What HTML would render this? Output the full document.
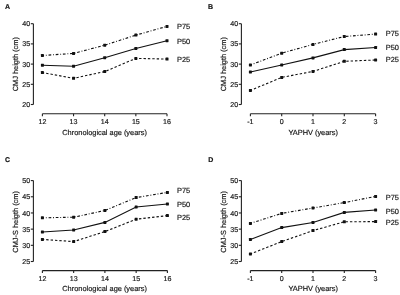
<!DOCTYPE html>
<html><head><meta charset="utf-8"><style>
html,body{margin:0;padding:0;background:#fff;width:400px;height:295px;overflow:hidden}
svg{display:block;will-change:transform;text-rendering:geometricPrecision;font-family:"Liberation Sans",sans-serif;fill:#111}
text{stroke:#222;stroke-width:0.18}
.ax{stroke:#222;stroke-width:1.1;fill:none}
.ln{stroke:#111;stroke-width:1.1;fill:none}
</style></head><body>
<svg width="400" height="295" viewBox="0 0 400 295">
<text x="5.10" y="9.41" font-size="7" text-anchor="start" font-weight="bold" >A</text>
<path d="M33.40 23.70V104.50" class="ax"/>
<path d="M30.80 23.70H33.40" class="ax"/>
<text x="30.10" y="26.24" font-size="7.1" text-anchor="end" font-weight="normal" >40</text>
<path d="M30.80 43.90H33.40" class="ax"/>
<text x="30.10" y="46.44" font-size="7.1" text-anchor="end" font-weight="normal" >35</text>
<path d="M30.80 64.10H33.40" class="ax"/>
<text x="30.10" y="66.64" font-size="7.1" text-anchor="end" font-weight="normal" >30</text>
<path d="M30.80 84.30H33.40" class="ax"/>
<text x="30.10" y="86.84" font-size="7.1" text-anchor="end" font-weight="normal" >25</text>
<path d="M30.80 104.50H33.40" class="ax"/>
<text x="30.10" y="107.04" font-size="7.1" text-anchor="end" font-weight="normal" >20</text>
<path d="M42.40 113.80H167.00" class="ax"/>
<path d="M42.40 113.80V116.20" class="ax"/>
<text x="42.40" y="123.84" font-size="7.1" text-anchor="middle" font-weight="normal" >12</text>
<path d="M73.55 113.80V116.20" class="ax"/>
<text x="73.55" y="123.84" font-size="7.1" text-anchor="middle" font-weight="normal" >13</text>
<path d="M104.70 113.80V116.20" class="ax"/>
<text x="104.70" y="123.84" font-size="7.1" text-anchor="middle" font-weight="normal" >14</text>
<path d="M135.85 113.80V116.20" class="ax"/>
<text x="135.85" y="123.84" font-size="7.1" text-anchor="middle" font-weight="normal" >15</text>
<path d="M167.00 113.80V116.20" class="ax"/>
<text x="167.00" y="123.84" font-size="7.1" text-anchor="middle" font-weight="normal" >16</text>
<text x="104.60" y="135.15" font-size="7.4" text-anchor="middle" font-weight="normal" >Chronological age (years)</text>
<text x="0" y="0" font-size="7.4" text-anchor="middle" transform="translate(17.65 64.20) rotate(-90)">CMJ heigth (cm)</text>
<polyline points="42.40,55.50 73.55,53.40 104.70,45.20 135.85,35.10 167.00,26.40" class="ln" stroke-dasharray="2.7 1.8 0.9 1.8" stroke-dashoffset="1.05"/>
<rect x="40.90" y="54.00" width="3.0" height="3.0" rx="0.4" fill="#111"/>
<rect x="72.05" y="51.90" width="3.0" height="3.0" rx="0.4" fill="#111"/>
<rect x="103.20" y="43.70" width="3.0" height="3.0" rx="0.4" fill="#111"/>
<rect x="134.35" y="33.60" width="3.0" height="3.0" rx="0.4" fill="#111"/>
<rect x="165.50" y="24.90" width="3.0" height="3.0" rx="0.4" fill="#111"/>
<polyline points="42.40,65.20 73.55,66.20 104.70,57.70 135.85,48.50 167.00,40.70" class="ln" />
<rect x="40.90" y="63.70" width="3.0" height="3.0" rx="0.4" fill="#111"/>
<rect x="72.05" y="64.70" width="3.0" height="3.0" rx="0.4" fill="#111"/>
<rect x="103.20" y="56.20" width="3.0" height="3.0" rx="0.4" fill="#111"/>
<rect x="134.35" y="47.00" width="3.0" height="3.0" rx="0.4" fill="#111"/>
<rect x="165.50" y="39.20" width="3.0" height="3.0" rx="0.4" fill="#111"/>
<polyline points="42.40,72.60 73.55,78.30 104.70,71.60 135.85,58.40 167.00,59.10" class="ln" stroke-dasharray="2.4 2.0" stroke-dashoffset="0.6"/>
<rect x="40.90" y="71.10" width="3.0" height="3.0" rx="0.4" fill="#111"/>
<rect x="72.05" y="76.80" width="3.0" height="3.0" rx="0.4" fill="#111"/>
<rect x="103.20" y="70.10" width="3.0" height="3.0" rx="0.4" fill="#111"/>
<rect x="134.35" y="56.90" width="3.0" height="3.0" rx="0.4" fill="#111"/>
<rect x="165.50" y="57.60" width="3.0" height="3.0" rx="0.4" fill="#111"/>
<text x="177.00" y="28.95" font-size="7.4" text-anchor="start" font-weight="normal" >P75</text>
<text x="177.00" y="43.65" font-size="7.4" text-anchor="start" font-weight="normal" >P50</text>
<text x="177.00" y="61.65" font-size="7.4" text-anchor="start" font-weight="normal" >P25</text>
<text x="208.10" y="9.41" font-size="7" text-anchor="start" font-weight="bold" >B</text>
<path d="M241.40 23.70V104.50" class="ax"/>
<path d="M238.80 23.70H241.40" class="ax"/>
<text x="238.10" y="26.24" font-size="7.1" text-anchor="end" font-weight="normal" >40</text>
<path d="M238.80 43.90H241.40" class="ax"/>
<text x="238.10" y="46.44" font-size="7.1" text-anchor="end" font-weight="normal" >35</text>
<path d="M238.80 64.10H241.40" class="ax"/>
<text x="238.10" y="66.64" font-size="7.1" text-anchor="end" font-weight="normal" >30</text>
<path d="M238.80 84.30H241.40" class="ax"/>
<text x="238.10" y="86.84" font-size="7.1" text-anchor="end" font-weight="normal" >25</text>
<path d="M238.80 104.50H241.40" class="ax"/>
<text x="238.10" y="107.04" font-size="7.1" text-anchor="end" font-weight="normal" >20</text>
<path d="M250.40 113.80H375.60" class="ax"/>
<path d="M250.40 113.80V116.20" class="ax"/>
<text x="250.40" y="123.84" font-size="7.1" text-anchor="middle" font-weight="normal" >-1</text>
<path d="M281.70 113.80V116.20" class="ax"/>
<text x="281.70" y="123.84" font-size="7.1" text-anchor="middle" font-weight="normal" >0</text>
<path d="M313.00 113.80V116.20" class="ax"/>
<text x="313.00" y="123.84" font-size="7.1" text-anchor="middle" font-weight="normal" >1</text>
<path d="M344.30 113.80V116.20" class="ax"/>
<text x="344.30" y="123.84" font-size="7.1" text-anchor="middle" font-weight="normal" >2</text>
<path d="M375.60 113.80V116.20" class="ax"/>
<text x="375.60" y="123.84" font-size="7.1" text-anchor="middle" font-weight="normal" >3</text>
<text x="313.20" y="134.85" font-size="7.4" text-anchor="middle" font-weight="normal" >YAPHV (years)</text>
<text x="0" y="0" font-size="7.4" text-anchor="middle" transform="translate(225.65 64.20) rotate(-90)">CMJ heigth (cm)</text>
<polyline points="250.40,65.00 281.70,53.20 313.00,44.40 344.30,36.50 375.60,34.10" class="ln" stroke-dasharray="2.7 1.8 0.9 1.8" stroke-dashoffset="1.05"/>
<rect x="248.90" y="63.50" width="3.0" height="3.0" rx="0.4" fill="#111"/>
<rect x="280.20" y="51.70" width="3.0" height="3.0" rx="0.4" fill="#111"/>
<rect x="311.50" y="42.90" width="3.0" height="3.0" rx="0.4" fill="#111"/>
<rect x="342.80" y="35.00" width="3.0" height="3.0" rx="0.4" fill="#111"/>
<rect x="374.10" y="32.60" width="3.0" height="3.0" rx="0.4" fill="#111"/>
<polyline points="250.40,72.00 281.70,65.00 313.00,57.90 344.30,49.60 375.60,47.50" class="ln" />
<rect x="248.90" y="70.50" width="3.0" height="3.0" rx="0.4" fill="#111"/>
<rect x="280.20" y="63.50" width="3.0" height="3.0" rx="0.4" fill="#111"/>
<rect x="311.50" y="56.40" width="3.0" height="3.0" rx="0.4" fill="#111"/>
<rect x="342.80" y="48.10" width="3.0" height="3.0" rx="0.4" fill="#111"/>
<rect x="374.10" y="46.00" width="3.0" height="3.0" rx="0.4" fill="#111"/>
<polyline points="250.40,90.40 281.70,77.40 313.00,71.40 344.30,61.30 375.60,60.00" class="ln" stroke-dasharray="2.4 2.0" stroke-dashoffset="0.6"/>
<rect x="248.90" y="88.90" width="3.0" height="3.0" rx="0.4" fill="#111"/>
<rect x="280.20" y="75.90" width="3.0" height="3.0" rx="0.4" fill="#111"/>
<rect x="311.50" y="69.90" width="3.0" height="3.0" rx="0.4" fill="#111"/>
<rect x="342.80" y="59.80" width="3.0" height="3.0" rx="0.4" fill="#111"/>
<rect x="374.10" y="58.50" width="3.0" height="3.0" rx="0.4" fill="#111"/>
<text x="385.80" y="36.05" font-size="7.4" text-anchor="start" font-weight="normal" >P75</text>
<text x="385.80" y="50.05" font-size="7.4" text-anchor="start" font-weight="normal" >P50</text>
<text x="385.80" y="62.25" font-size="7.4" text-anchor="start" font-weight="normal" >P25</text>
<text x="5.10" y="162.01" font-size="7" text-anchor="start" font-weight="bold" >C</text>
<path d="M33.40 180.60V261.50" class="ax"/>
<path d="M30.80 180.60H33.40" class="ax"/>
<text x="30.10" y="183.14" font-size="7.1" text-anchor="end" font-weight="normal" >50</text>
<path d="M30.80 196.78H33.40" class="ax"/>
<text x="30.10" y="199.32" font-size="7.1" text-anchor="end" font-weight="normal" >45</text>
<path d="M30.80 212.96H33.40" class="ax"/>
<text x="30.10" y="215.50" font-size="7.1" text-anchor="end" font-weight="normal" >40</text>
<path d="M30.80 229.14H33.40" class="ax"/>
<text x="30.10" y="231.68" font-size="7.1" text-anchor="end" font-weight="normal" >35</text>
<path d="M30.80 245.32H33.40" class="ax"/>
<text x="30.10" y="247.86" font-size="7.1" text-anchor="end" font-weight="normal" >30</text>
<path d="M30.80 261.50H33.40" class="ax"/>
<text x="30.10" y="264.04" font-size="7.1" text-anchor="end" font-weight="normal" >25</text>
<path d="M42.40 270.60H167.40" class="ax"/>
<path d="M42.40 270.60V273.00" class="ax"/>
<text x="42.40" y="280.74" font-size="7.1" text-anchor="middle" font-weight="normal" >12</text>
<path d="M73.65 270.60V273.00" class="ax"/>
<text x="73.65" y="280.74" font-size="7.1" text-anchor="middle" font-weight="normal" >13</text>
<path d="M104.90 270.60V273.00" class="ax"/>
<text x="104.90" y="280.74" font-size="7.1" text-anchor="middle" font-weight="normal" >14</text>
<path d="M136.15 270.60V273.00" class="ax"/>
<text x="136.15" y="280.74" font-size="7.1" text-anchor="middle" font-weight="normal" >15</text>
<path d="M167.40 270.60V273.00" class="ax"/>
<text x="167.40" y="280.74" font-size="7.1" text-anchor="middle" font-weight="normal" >16</text>
<text x="104.60" y="291.35" font-size="7.4" text-anchor="middle" font-weight="normal" >Chronological age (years)</text>
<text x="0" y="0" font-size="7.4" text-anchor="middle" transform="translate(17.65 221.90) rotate(-90)">CMJ-S heigth (cm)</text>
<polyline points="42.40,217.80 73.65,217.20 104.90,210.50 136.15,197.60 167.40,192.40" class="ln" stroke-dasharray="2.7 1.8 0.9 1.8" stroke-dashoffset="1.05"/>
<rect x="40.90" y="216.30" width="3.0" height="3.0" rx="0.4" fill="#111"/>
<rect x="72.15" y="215.70" width="3.0" height="3.0" rx="0.4" fill="#111"/>
<rect x="103.40" y="209.00" width="3.0" height="3.0" rx="0.4" fill="#111"/>
<rect x="134.65" y="196.10" width="3.0" height="3.0" rx="0.4" fill="#111"/>
<rect x="165.90" y="190.90" width="3.0" height="3.0" rx="0.4" fill="#111"/>
<polyline points="42.40,232.00 73.65,230.00 104.90,222.40 136.15,207.00 167.40,204.00" class="ln" />
<rect x="40.90" y="230.50" width="3.0" height="3.0" rx="0.4" fill="#111"/>
<rect x="72.15" y="228.50" width="3.0" height="3.0" rx="0.4" fill="#111"/>
<rect x="103.40" y="220.90" width="3.0" height="3.0" rx="0.4" fill="#111"/>
<rect x="134.65" y="205.50" width="3.0" height="3.0" rx="0.4" fill="#111"/>
<rect x="165.90" y="202.50" width="3.0" height="3.0" rx="0.4" fill="#111"/>
<polyline points="42.40,239.40 73.65,241.60 104.90,231.60 136.15,219.20 167.40,215.60" class="ln" stroke-dasharray="2.4 2.0" stroke-dashoffset="0.6"/>
<rect x="40.90" y="237.90" width="3.0" height="3.0" rx="0.4" fill="#111"/>
<rect x="72.15" y="240.10" width="3.0" height="3.0" rx="0.4" fill="#111"/>
<rect x="103.40" y="230.10" width="3.0" height="3.0" rx="0.4" fill="#111"/>
<rect x="134.65" y="217.70" width="3.0" height="3.0" rx="0.4" fill="#111"/>
<rect x="165.90" y="214.10" width="3.0" height="3.0" rx="0.4" fill="#111"/>
<text x="177.00" y="193.05" font-size="7.4" text-anchor="start" font-weight="normal" >P75</text>
<text x="177.00" y="207.05" font-size="7.4" text-anchor="start" font-weight="normal" >P50</text>
<text x="177.00" y="219.85" font-size="7.4" text-anchor="start" font-weight="normal" >P25</text>
<text x="208.30" y="162.01" font-size="7" text-anchor="start" font-weight="bold" >D</text>
<path d="M241.40 180.60V261.50" class="ax"/>
<path d="M238.80 180.60H241.40" class="ax"/>
<text x="238.10" y="183.14" font-size="7.1" text-anchor="end" font-weight="normal" >50</text>
<path d="M238.80 196.78H241.40" class="ax"/>
<text x="238.10" y="199.32" font-size="7.1" text-anchor="end" font-weight="normal" >45</text>
<path d="M238.80 212.96H241.40" class="ax"/>
<text x="238.10" y="215.50" font-size="7.1" text-anchor="end" font-weight="normal" >40</text>
<path d="M238.80 229.14H241.40" class="ax"/>
<text x="238.10" y="231.68" font-size="7.1" text-anchor="end" font-weight="normal" >35</text>
<path d="M238.80 245.32H241.40" class="ax"/>
<text x="238.10" y="247.86" font-size="7.1" text-anchor="end" font-weight="normal" >30</text>
<path d="M238.80 261.50H241.40" class="ax"/>
<text x="238.10" y="264.04" font-size="7.1" text-anchor="end" font-weight="normal" >25</text>
<path d="M250.40 270.60H375.60" class="ax"/>
<path d="M250.40 270.60V273.00" class="ax"/>
<text x="250.40" y="280.94" font-size="7.1" text-anchor="middle" font-weight="normal" >-1</text>
<path d="M281.70 270.60V273.00" class="ax"/>
<text x="281.70" y="280.94" font-size="7.1" text-anchor="middle" font-weight="normal" >0</text>
<path d="M313.00 270.60V273.00" class="ax"/>
<text x="313.00" y="280.94" font-size="7.1" text-anchor="middle" font-weight="normal" >1</text>
<path d="M344.30 270.60V273.00" class="ax"/>
<text x="344.30" y="280.94" font-size="7.1" text-anchor="middle" font-weight="normal" >2</text>
<path d="M375.60 270.60V273.00" class="ax"/>
<text x="375.60" y="280.94" font-size="7.1" text-anchor="middle" font-weight="normal" >3</text>
<text x="313.20" y="291.35" font-size="7.4" text-anchor="middle" font-weight="normal" >YAPHV (years)</text>
<text x="0" y="0" font-size="7.4" text-anchor="middle" transform="translate(225.65 221.90) rotate(-90)">CMJ-S heigth (cm)</text>
<polyline points="250.40,223.40 281.70,213.40 313.00,208.00 344.30,202.60 375.60,196.40" class="ln" stroke-dasharray="2.7 1.8 0.9 1.8" stroke-dashoffset="1.05"/>
<rect x="248.90" y="221.90" width="3.0" height="3.0" rx="0.4" fill="#111"/>
<rect x="280.20" y="211.90" width="3.0" height="3.0" rx="0.4" fill="#111"/>
<rect x="311.50" y="206.50" width="3.0" height="3.0" rx="0.4" fill="#111"/>
<rect x="342.80" y="201.10" width="3.0" height="3.0" rx="0.4" fill="#111"/>
<rect x="374.10" y="194.90" width="3.0" height="3.0" rx="0.4" fill="#111"/>
<polyline points="250.40,239.50 281.70,227.60 313.00,222.50 344.30,212.40 375.60,210.00" class="ln" />
<rect x="248.90" y="238.00" width="3.0" height="3.0" rx="0.4" fill="#111"/>
<rect x="280.20" y="226.10" width="3.0" height="3.0" rx="0.4" fill="#111"/>
<rect x="311.50" y="221.00" width="3.0" height="3.0" rx="0.4" fill="#111"/>
<rect x="342.80" y="210.90" width="3.0" height="3.0" rx="0.4" fill="#111"/>
<rect x="374.10" y="208.50" width="3.0" height="3.0" rx="0.4" fill="#111"/>
<polyline points="250.40,254.00 281.70,241.60 313.00,230.60 344.30,221.80 375.60,221.60" class="ln" stroke-dasharray="2.4 2.0" stroke-dashoffset="0.6"/>
<rect x="248.90" y="252.50" width="3.0" height="3.0" rx="0.4" fill="#111"/>
<rect x="280.20" y="240.10" width="3.0" height="3.0" rx="0.4" fill="#111"/>
<rect x="311.50" y="229.10" width="3.0" height="3.0" rx="0.4" fill="#111"/>
<rect x="342.80" y="220.30" width="3.0" height="3.0" rx="0.4" fill="#111"/>
<rect x="374.10" y="220.10" width="3.0" height="3.0" rx="0.4" fill="#111"/>
<text x="385.80" y="199.95" font-size="7.4" text-anchor="start" font-weight="normal" >P75</text>
<text x="385.80" y="214.25" font-size="7.4" text-anchor="start" font-weight="normal" >P50</text>
<text x="385.80" y="225.15" font-size="7.4" text-anchor="start" font-weight="normal" >P25</text>
</svg></body></html>
